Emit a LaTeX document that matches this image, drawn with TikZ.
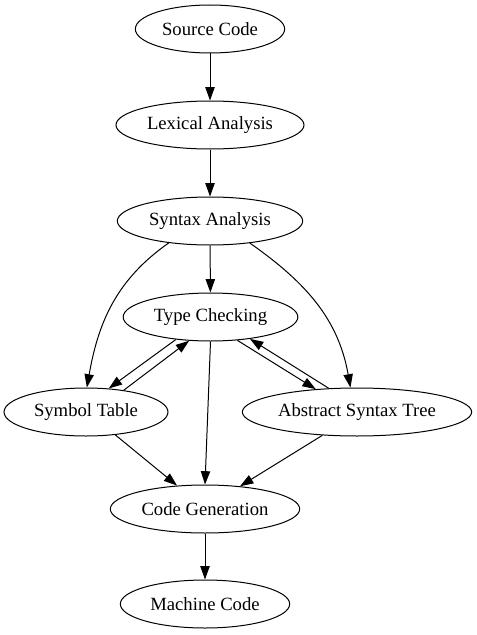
\documentclass[tikz,border=0pt]{standalone}
\usepackage{fontspec}
\setmainfont{Liberation Serif}
\usetikzlibrary{arrows.meta, shapes.geometric}

\begin{document}
\begin{tikzpicture}[x=0.75pt, y=0.75pt, >={Triangle[length=10pt, width=7pt]},
      phase/.style={ellipse, draw, line width=0.75pt, inner sep=0pt, minimum height=36pt, font=\fontsize{14pt}{16pt}\selectfont},
      flow/.style={->, line width=0.75pt}]
      \useasboundingbox (0,0) rectangle (477,-635);

      \node[phase, minimum width=112pt] (src) at (210,-29) {Source Code};
      \node[phase, minimum width=141pt] (lex) at (210,-125) {Lexical Analysis};
      \node[phase, minimum width=139pt] (syn) at (210,-221) {Syntax Analysis};
      \node[phase, minimum width=131pt] (tc) at (210.5,-317) {Type Checking};
      \node[phase, minimum width=123pt] (st) at (86,-412) {Symbol Table};
      \node[phase, minimum width=172pt] (ast) at (357,-412) {Abstract Syntax Tree};
      \node[phase, minimum width=142pt] (cg) at (205,-509) {Code Generation};
      \node[phase, minimum width=127pt] (mc) at (205,-604) {Machine Code};

      % Front end
      \draw[flow] (src) -- (lex);
      \draw[flow] (lex) -- (syn);
      \draw[flow] (syn) -- (tc);
      \draw[flow] (syn.208) to[out=215, in=80] (st.88);
      \draw[flow] (syn.331) to[out=-35, in=100] (ast.105);

      % Checking back and forth
      \draw[flow] (tc.213) -- (st.46);
      \draw[flow] (st.30) -- (tc.228);
      \draw[flow] (tc.319) -- (ast.151);
      \draw[flow] (ast.140) -- (tc.331);

      % Back end
      \draw[flow] (tc.south) -- (cg.north);
      \draw[flow] (st.322) -- (cg.140);
      \draw[flow] (ast.214) -- (cg.33);
      \draw[flow] (cg) -- (mc);
\end{tikzpicture}
\end{document}
